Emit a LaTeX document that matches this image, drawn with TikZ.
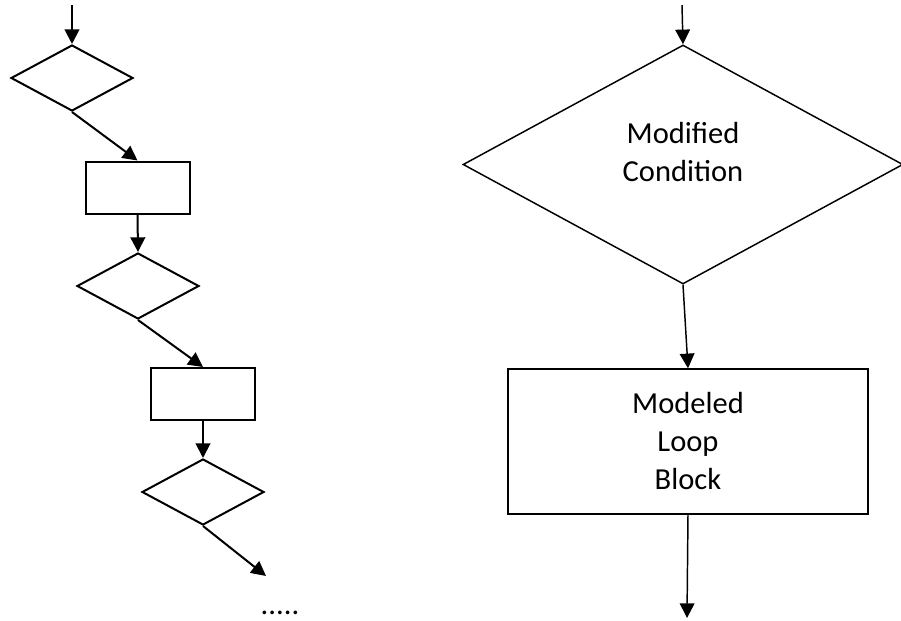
\documentclass[tikz,border=0pt]{standalone}
\usepackage{fontspec}
\setmainfont{Carlito}
\usetikzlibrary{arrows.meta,shapes.geometric}
\tikzset{dia/.style={draw,diamond,inner sep=0pt,line width=1.5pt},
 box/.style={draw,rectangle,inner sep=0pt,line width=1.5pt},
 txt/.style={align=center,font=\fontsize{22.9}{28.5}\selectfont},
 arr/.style={-{Triangle[length=11pt,width=11pt]},line width=1.5pt},
 thin/.style={line width=1.1pt}}

\begin{document}
\begin{tikzpicture}[x=.75pt,y=-.75pt]
\useasboundingbox (0,0) rectangle (901,621);
% left: unrolled chain
\foreach \n/\x/\y in {1/72/78,2/138/286,3/203/492}{
\node[dia,minimum width=91.5pt,minimum height=49.5pt] (d\n) at (\x,\y) {};}
\foreach \n/\x/\y in {1/137.5/187.5,2/203/394}{
\node[box,minimum width=78pt,minimum height=39pt] (r\n) at (\x,\y) {};}
\coordinate (in1) at (72,5);\coordinate (out1) at (266,576);
\draw[arr] (in1)--(d1.north);
\foreach \a/\b in {d1.south/r1.north,r1.south/d2.north,d2.south/r2.north,r2.south/d3.north,d3.south/out1}{
\draw[arr] (\a)--(\b);}
\node[txt,anchor=base] (dots) at (280,614) {.....};
% right: modeled loop
\node[dia,thin,minimum width=330pt,minimum height=179.25pt] (cond) at (683,164.5) {};
\node[txt] (condtxt) at (683,152) {Modified\\Condition};
\node[box,thin,txt,minimum width=270pt,minimum height=108.75pt] (loop) at (688,441.5) {Modeled\\Loop\\Block};
\coordinate (in2) at (682,5);\coordinate (out2) at (687,618);
\draw[arr,thin] (in2)--(cond.north);
\draw[arr,thin] (cond.south)--(loop.north);
\draw[arr,thin] (loop.south)--(out2);
\end{tikzpicture}
\end{document}
